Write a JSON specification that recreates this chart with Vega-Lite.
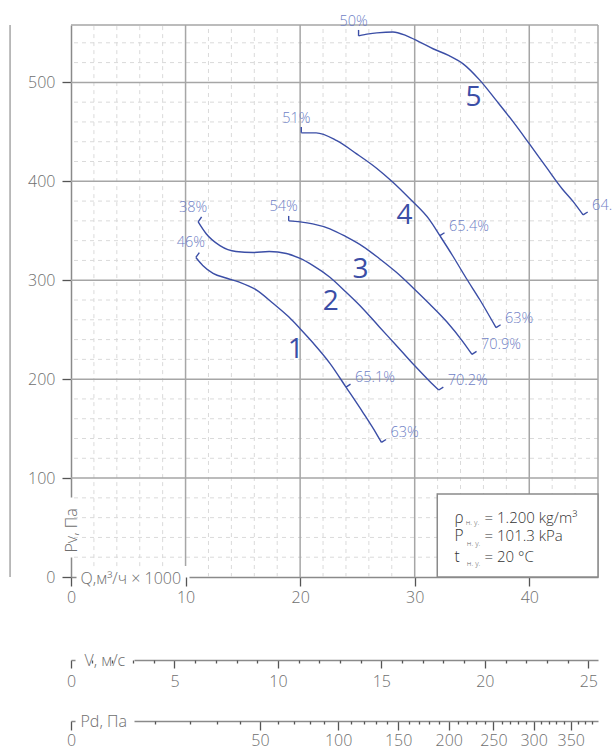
{
  "$schema": "https://vega.github.io/schema/vega-lite/v6.json",
  "width": 527,
  "height": 552,
  "autosize": {"type": "none"},
  "padding": {"left": 71, "top": 25, "right": 14, "bottom": 172},
  "background": "white",
  "config": {
    "view": {"stroke": null},
    "font": "Open Sans",
    "axis": {
      "grid": false,
      "domainColor": "#8a8a8a",
      "domainWidth": 1.5,
      "tickColor": "#555555",
      "tickWidth": 1.3,
      "labelColor": "#6e6e6e",
      "labelFont": "Open Sans",
      "labelFontSize": 16,
      "labelFontWeight": 300,
      "labelFlush": false,
      "labelOverlap": false,
      "titleColor": "#6e6e6e",
      "titleFont": "Open Sans",
      "titleFontSize": 16,
      "titleFontWeight": 300,
      "zindex": 1
    }
  },
  "datasets": {
    "curves": [
      {"curve": 1, "q": 10.9, "p": 323}, {"curve": 1, "q": 11.5, "p": 315}, {"curve": 1, "q": 12.4, "p": 307}, {"curve": 1, "q": 13.6, "p": 302}, {"curve": 1, "q": 14.7, "p": 298}, {"curve": 1, "q": 16.2, "p": 290}, {"curve": 1, "q": 17.6, "p": 277}, {"curve": 1, "q": 19.0, "p": 263}, {"curve": 1, "q": 20.0, "p": 251}, {"curve": 1, "q": 21.1, "p": 237}, {"curve": 1, "q": 22.6, "p": 216}, {"curve": 1, "q": 24.0, "p": 192}, {"curve": 1, "q": 25.5, "p": 166}, {"curve": 1, "q": 26.7, "p": 144}, {"curve": 1, "q": 27.1, "p": 136},
      {"curve": 2, "q": 11.1, "p": 359}, {"curve": 2, "q": 11.8, "p": 347}, {"curve": 2, "q": 13.0, "p": 335}, {"curve": 2, "q": 14.4, "p": 329}, {"curve": 2, "q": 15.9, "p": 328}, {"curve": 2, "q": 17.3, "p": 329}, {"curve": 2, "q": 18.8, "p": 327}, {"curve": 2, "q": 20.0, "p": 322}, {"curve": 2, "q": 21.1, "p": 315}, {"curve": 2, "q": 22.6, "p": 303}, {"curve": 2, "q": 24.0, "p": 288}, {"curve": 2, "q": 25.5, "p": 271}, {"curve": 2, "q": 26.9, "p": 253}, {"curve": 2, "q": 28.4, "p": 234}, {"curve": 2, "q": 29.8, "p": 216}, {"curve": 2, "q": 31.3, "p": 198}, {"curve": 2, "q": 32.1, "p": 189},
      {"curve": 3, "q": 19.0, "p": 360}, {"curve": 3, "q": 20.0, "p": 359}, {"curve": 3, "q": 21.1, "p": 357}, {"curve": 3, "q": 22.6, "p": 352}, {"curve": 3, "q": 24.0, "p": 344}, {"curve": 3, "q": 25.5, "p": 334}, {"curve": 3, "q": 26.9, "p": 322}, {"curve": 3, "q": 28.4, "p": 308}, {"curve": 3, "q": 29.8, "p": 293}, {"curve": 3, "q": 31.3, "p": 276}, {"curve": 3, "q": 32.8, "p": 258}, {"curve": 3, "q": 34.2, "p": 238}, {"curve": 3, "q": 35.0, "p": 225},
      {"curve": 4, "q": 20.1, "p": 449}, {"curve": 4, "q": 21.4, "p": 449}, {"curve": 4, "q": 23.2, "p": 441}, {"curve": 4, "q": 24.9, "p": 428}, {"curve": 4, "q": 26.7, "p": 413}, {"curve": 4, "q": 28.1, "p": 399}, {"curve": 4, "q": 29.6, "p": 382}, {"curve": 4, "q": 31.3, "p": 361}, {"curve": 4, "q": 32.2, "p": 345}, {"curve": 4, "q": 33.3, "p": 325}, {"curve": 4, "q": 34.5, "p": 302}, {"curve": 4, "q": 35.7, "p": 280}, {"curve": 4, "q": 37.1, "p": 252},
      {"curve": 5, "q": 25.1, "p": 547}, {"curve": 5, "q": 26.0, "p": 549}, {"curve": 5, "q": 26.7, "p": 550}, {"curve": 5, "q": 28.1, "p": 551}, {"curve": 5, "q": 29.3, "p": 547}, {"curve": 5, "q": 30.4, "p": 541}, {"curve": 5, "q": 31.6, "p": 534}, {"curve": 5, "q": 33.0, "p": 527}, {"curve": 5, "q": 34.2, "p": 519}, {"curve": 5, "q": 35.7, "p": 502}, {"curve": 5, "q": 37.1, "p": 482}, {"curve": 5, "q": 38.6, "p": 460}, {"curve": 5, "q": 40.0, "p": 438}, {"curve": 5, "q": 41.5, "p": 414}, {"curve": 5, "q": 42.9, "p": 392}, {"curve": 5, "q": 43.8, "p": 380}, {"curve": 5, "q": 44.7, "p": 366}
    ],
    "marks": [
      {"seg": "1s", "q": 10.9, "p": 323}, {"seg": "1s", "q": 11.2, "p": 328},
      {"seg": "2s", "q": 11.1, "p": 359}, {"seg": "2s", "q": 11.4, "p": 364},
      {"seg": "3s", "q": 19.0, "p": 360}, {"seg": "3s", "q": 19.0, "p": 365},
      {"seg": "4s", "q": 20.1, "p": 449}, {"seg": "4s", "q": 20.1, "p": 455},
      {"seg": "5s", "q": 25.1, "p": 547}, {"seg": "5s", "q": 25.1, "p": 553},
      {"seg": "1e", "q": 27.1, "p": 136}, {"seg": "1e", "q": 27.5, "p": 139},
      {"seg": "2e", "q": 32.1, "p": 189}, {"seg": "2e", "q": 32.5, "p": 192},
      {"seg": "3e", "q": 35.0, "p": 225}, {"seg": "3e", "q": 35.4, "p": 228},
      {"seg": "4e", "q": 37.1, "p": 252}, {"seg": "4e", "q": 37.5, "p": 255},
      {"seg": "5e", "q": 44.7, "p": 366}, {"seg": "5e", "q": 45.1, "p": 369},
      {"seg": "1m", "q": 24.0, "p": 192}, {"seg": "1m", "q": 24.4, "p": 195},
      {"seg": "4m", "q": 32.2, "p": 345}, {"seg": "4m", "q": 32.6, "p": 348}
    ],
    "eff": [
      {"kind": "start", "q": 10.9, "p": 323, "label": "46%"},
      {"kind": "start", "q": 11.1, "p": 359, "label": "38%"},
      {"kind": "start", "q": 19.0, "p": 360, "label": "54%"},
      {"kind": "start", "q": 20.1, "p": 449, "label": "51%"},
      {"kind": "start", "q": 25.1, "p": 547, "label": "50%"},
      {"kind": "end", "q": 27.1, "p": 136, "label": "63%"},
      {"kind": "end", "q": 32.1, "p": 189, "label": "70.2%"},
      {"kind": "end", "q": 35.0, "p": 225, "label": "70.9%"},
      {"kind": "end", "q": 37.1, "p": 252, "label": "63%"},
      {"kind": "end", "q": 44.7, "p": 366, "label": "64.3%"},
      {"kind": "end", "q": 24.0, "p": 192, "label": "65.1%"},
      {"kind": "end", "q": 32.2, "p": 345, "label": "65.4%"}
    ],
    "names": [
      {"name": "1", "q": 19.62, "p": 229},
      {"name": "2", "q": 22.67, "p": 278},
      {"name": "3", "q": 25.28, "p": 310},
      {"name": "4", "q": 29.12, "p": 365},
      {"name": "5", "q": 35.13, "p": 484}
    ],
    "gridV": [
      {"kind": "minor", "q": 2, "p1": 11, "p2": 558}, {"kind": "minor", "q": 4, "p1": 11, "p2": 558}, {"kind": "minor", "q": 6, "p1": 11, "p2": 558}, {"kind": "minor", "q": 8, "p1": 11, "p2": 558},
      {"kind": "minor", "q": 12, "p1": 0, "p2": 558}, {"kind": "minor", "q": 14, "p1": 0, "p2": 558}, {"kind": "minor", "q": 16, "p1": 0, "p2": 558}, {"kind": "minor", "q": 18, "p1": 0, "p2": 558},
      {"kind": "minor", "q": 22, "p1": 0, "p2": 558}, {"kind": "minor", "q": 24, "p1": 0, "p2": 558}, {"kind": "minor", "q": 26, "p1": 0, "p2": 558}, {"kind": "minor", "q": 28, "p1": 0, "p2": 558},
      {"kind": "minor", "q": 32, "p1": 0, "p2": 558}, {"kind": "minor", "q": 34, "p1": 0, "p2": 558}, {"kind": "minor", "q": 36, "p1": 0, "p2": 558}, {"kind": "minor", "q": 38, "p1": 0, "p2": 558},
      {"kind": "minor", "q": 42, "p1": 0, "p2": 558}, {"kind": "minor", "q": 44, "p1": 0, "p2": 558},
      {"kind": "major", "q": 10, "p1": 11, "p2": 558}, {"kind": "major", "q": 20, "p1": 0, "p2": 558}, {"kind": "major", "q": 30, "p1": 0, "p2": 558}, {"kind": "major", "q": 40, "p1": 0, "p2": 558}, {"kind": "major", "q": 46, "p1": 0, "p2": 558},
      {"kind": "major", "q": -5.32, "p1": 0, "p2": 558}
    ],
    "gridH": [
      {"kind": "minor", "p": 20}, {"kind": "minor", "p": 40}, {"kind": "minor", "p": 60}, {"kind": "minor", "p": 80},
      {"kind": "minor", "p": 120}, {"kind": "minor", "p": 140}, {"kind": "minor", "p": 160}, {"kind": "minor", "p": 180},
      {"kind": "minor", "p": 220}, {"kind": "minor", "p": 240}, {"kind": "minor", "p": 260}, {"kind": "minor", "p": 280},
      {"kind": "minor", "p": 320}, {"kind": "minor", "p": 340}, {"kind": "minor", "p": 360}, {"kind": "minor", "p": 380},
      {"kind": "minor", "p": 420}, {"kind": "minor", "p": 440}, {"kind": "minor", "p": 460}, {"kind": "minor", "p": 480},
      {"kind": "minor", "p": 520}, {"kind": "minor", "p": 540},
      {"kind": "major", "p": 100}, {"kind": "major", "p": 200}, {"kind": "major", "p": 300}, {"kind": "major", "p": 400}, {"kind": "major", "p": 500}, {"kind": "major", "p": 558}
    ],
    "box": [{"q1": 31.97, "q2": 46, "p1": 0, "p2": 83.8}],
    "boxText": [
      {"role": "sym", "q": 33.48, "p": 55, "text": "ρ"},
      {"role": "sym", "q": 33.48, "p": 36.4, "text": "P"},
      {"role": "sym", "q": 33.48, "p": 15.5, "text": "t"},
      {"role": "sub", "q": 34.45, "p": 52.3, "text": "н. у."},
      {"role": "sub", "q": 34.55, "p": 31.6, "text": "н. у."},
      {"role": "sub", "q": 34.55, "p": 11.1, "text": "н. у."},
      {"role": "val", "q": 36.1, "p": 55, "text": "= 1.200 kg/m³"},
      {"role": "val", "q": 36.1, "p": 36.4, "text": "= 101.3 kPa"},
      {"role": "val", "q": 36.1, "p": 15.5, "text": "= 20 °C"}
    ],
    "qpTicks": [{"q": 0, "p": 0}, {"q": 10, "p": 100}, {"q": 20, "p": 200}, {"q": 30, "p": 300}, {"q": 40, "p": 400}, {"q": 40, "p": 500}],
    "vTicks": [{"v": 0}, {"v": 5}, {"v": 10}, {"v": 15}, {"v": 20}, {"v": 25}],
    "pdTicks": [{"pd": 0}, {"pd": 50}, {"pd": 100}, {"pd": 150}, {"pd": 200}, {"pd": 250}, {"pd": 300}, {"pd": 350}]
  },
  "layer": [
    {
      "layer": [
        {
          "data": {"name": "gridV"},
          "transform": [{"filter": "datum.kind === 'minor'"}],
          "mark": {"type": "rule", "color": "#dadada", "strokeWidth": 1, "strokeDash": [4, 4]},
          "encoding": {
            "x": {"field": "q", "type": "quantitative", "scale": {"domain": [0, 46], "nice": false, "zero": false}, "axis": null},
            "y": {"field": "p1", "type": "quantitative", "scale": {"domain": [0, 558], "nice": false, "zero": false}, "axis": null},
            "y2": {"field": "p2"}
          }
        },
        {
          "data": {"name": "gridH"},
          "transform": [{"filter": "datum.kind === 'minor'"}],
          "mark": {"type": "rule", "color": "#dadada", "strokeWidth": 1, "strokeDash": [4, 4]},
          "encoding": {
            "y": {"field": "p", "type": "quantitative", "scale": {"domain": [0, 558], "nice": false, "zero": false}, "axis": null}
          }
        },
        {
          "data": {"name": "gridV"},
          "transform": [{"filter": "datum.kind === 'major'"}],
          "mark": {"type": "rule", "color": "#a6a6a6", "strokeWidth": 1.5},
          "encoding": {
            "x": {"field": "q", "type": "quantitative", "scale": {"domain": [0, 46], "nice": false, "zero": false}, "axis": null},
            "y": {"field": "p1", "type": "quantitative", "scale": {"domain": [0, 558], "nice": false, "zero": false}, "axis": null},
            "y2": {"field": "p2"}
          }
        },
        {
          "data": {"name": "gridH"},
          "transform": [{"filter": "datum.kind === 'major'"}],
          "mark": {"type": "rule", "color": "#a6a6a6", "strokeWidth": 1.5},
          "encoding": {
            "y": {"field": "p", "type": "quantitative", "scale": {"domain": [0, 558], "nice": false, "zero": false}, "axis": null}
          }
        },
        {
          "data": {"name": "box"},
          "mark": {"type": "rect", "fill": "white", "stroke": "#8a8a8a", "strokeWidth": 1.5},
          "encoding": {
            "x": {"field": "q1", "type": "quantitative", "scale": {"domain": [0, 46], "nice": false, "zero": false}, "axis": null},
            "x2": {"field": "q2"},
            "y": {"field": "p1", "type": "quantitative", "scale": {"domain": [0, 558], "nice": false, "zero": false}, "axis": null},
            "y2": {"field": "p2"}
          }
        },
        {
          "data": {"name": "curves"},
          "mark": {"type": "line", "color": "#3b4ea6", "strokeWidth": 1.4, "interpolate": "monotone"},
          "encoding": {
            "x": {"field": "q", "type": "quantitative", "scale": {"domain": [0, 46], "nice": false, "zero": false}, "axis": null},
            "y": {"field": "p", "type": "quantitative", "scale": {"domain": [0, 558], "nice": false, "zero": false}, "axis": null},
            "detail": {"field": "curve", "type": "nominal"}
          }
        },
        {
          "data": {"name": "marks"},
          "mark": {"type": "line", "color": "#3b4ea6", "strokeWidth": 1.4},
          "encoding": {
            "x": {"field": "q", "type": "quantitative", "scale": {"domain": [0, 46], "nice": false, "zero": false}, "axis": null},
            "y": {"field": "p", "type": "quantitative", "scale": {"domain": [0, 558], "nice": false, "zero": false}, "axis": null},
            "detail": {"field": "seg", "type": "nominal"}
          }
        },
        {
          "data": {"name": "eff"},
          "transform": [{"filter": "datum.kind === 'start'"}],
          "mark": {"type": "text", "color": "#6f7fc6", "font": "Open Sans", "fontSize": 14.5, "fontWeight": 300, "align": "center", "baseline": "middle", "dx": -5, "dy": -14},
          "encoding": {
            "x": {"field": "q", "type": "quantitative", "scale": {"domain": [0, 46], "nice": false, "zero": false}, "axis": null},
            "y": {"field": "p", "type": "quantitative", "scale": {"domain": [0, 558], "nice": false, "zero": false}, "axis": null},
            "text": {"field": "label"}
          }
        },
        {
          "data": {"name": "eff"},
          "transform": [{"filter": "datum.kind === 'end'"}],
          "mark": {"type": "text", "color": "#6f7fc6", "font": "Open Sans", "fontSize": 14.5, "fontWeight": 300, "align": "left", "baseline": "middle", "dx": 9, "dy": -9},
          "encoding": {
            "x": {"field": "q", "type": "quantitative", "scale": {"domain": [0, 46], "nice": false, "zero": false}, "axis": null},
            "y": {"field": "p", "type": "quantitative", "scale": {"domain": [0, 558], "nice": false, "zero": false}, "axis": null},
            "text": {"field": "label"}
          }
        },
        {
          "data": {"name": "names"},
          "mark": {"type": "text", "color": "#3b4ea6", "font": "Open Sans", "fontSize": 28, "fontWeight": 500, "align": "center", "baseline": "middle"},
          "encoding": {
            "x": {"field": "q", "type": "quantitative", "scale": {"domain": [0, 46], "nice": false, "zero": false}, "axis": null},
            "y": {"field": "p", "type": "quantitative", "scale": {"domain": [0, 558], "nice": false, "zero": false}, "axis": null},
            "text": {"field": "name"}
          }
        },
        {
          "data": {"name": "boxText"},
          "transform": [{"filter": "datum.role === 'sym'"}],
          "mark": {"type": "text", "color": "#333333", "font": "Open Sans", "fontSize": 15.5, "fontWeight": 300, "align": "left", "baseline": "alphabetic"},
          "encoding": {
            "x": {"field": "q", "type": "quantitative", "scale": {"domain": [0, 46], "nice": false, "zero": false}, "axis": null},
            "y": {"field": "p", "type": "quantitative", "scale": {"domain": [0, 558], "nice": false, "zero": false}, "axis": null},
            "text": {"field": "text"}
          }
        },
        {
          "data": {"name": "boxText"},
          "transform": [{"filter": "datum.role === 'sub'"}],
          "mark": {"type": "text", "color": "#666666", "font": "Open Sans", "fontSize": 7.5, "fontWeight": 300, "align": "left", "baseline": "alphabetic"},
          "encoding": {
            "x": {"field": "q", "type": "quantitative", "scale": {"domain": [0, 46], "nice": false, "zero": false}, "axis": null},
            "y": {"field": "p", "type": "quantitative", "scale": {"domain": [0, 558], "nice": false, "zero": false}, "axis": null},
            "text": {"field": "text"}
          }
        },
        {
          "data": {"name": "boxText"},
          "transform": [{"filter": "datum.role === 'val'"}],
          "mark": {"type": "text", "color": "#333333", "font": "Open Sans", "fontSize": 15, "fontWeight": 300, "align": "left", "baseline": "alphabetic"},
          "encoding": {
            "x": {"field": "q", "type": "quantitative", "scale": {"domain": [0, 46], "nice": false, "zero": false}, "axis": null},
            "y": {"field": "p", "type": "quantitative", "scale": {"domain": [0, 558], "nice": false, "zero": false}, "axis": null},
            "text": {"field": "text"}
          }
        }
      ]
    },
    {
      "data": {"name": "qpTicks"},
      "mark": {"type": "point", "opacity": 0},
      "encoding": {
        "x": {
          "field": "q", "type": "quantitative",
          "scale": {"domain": [0, 46], "nice": false, "zero": false},
          "axis": {
            "orient": "bottom",
            "values": [0, 10, 20, 30, 40],
            "tickSize": 9,
            "labelPadding": 3,
            "domainDash": [5, 113, 1000],
            "title": "Q,м³/ч × 1000",
            "titleX": 9,
            "titleY": 1,
            "titleAlign": "left",
            "titleBaseline": "middle"
          }
        },
        "y": {
          "field": "p", "type": "quantitative",
          "scale": {"domain": [0, 558], "nice": false, "zero": false},
          "axis": {
            "orient": "left",
            "values": [0, 100, 200, 300, 400, 500],
            "tickSize": 9,
            "labelPadding": 7,
            "domainDash": [20, 60, 1000],
            "title": "Pv, Па",
            "titleAngle": 270,
            "titleX": 0,
            "titleY": 527,
            "titleAlign": "left",
            "titleBaseline": "middle"
          }
        }
      }
    },
    {
      "data": {"name": "vTicks"},
      "mark": {"type": "point", "opacity": 0},
      "encoding": {
        "x": {
          "field": "v", "type": "quantitative",
          "scale": {"domain": [0, 25.47], "nice": false, "zero": false},
          "axis": {
            "orient": "bottom", "offset": 83,
            "values": [0, 5, 10, 15, 20, 25],
            "tickSize": 8, "labelPadding": 5,
            "domainDash": [4, 59, 1000],
            "title": "V, м/с", "titleX": 13, "titleY": 0, "titleAlign": "left", "titleBaseline": "middle"
          }
        }
      }
    },
    {
      "data": {"name": "vTicks"},
      "mark": {"type": "point", "opacity": 0},
      "encoding": {
        "x": {
          "field": "v", "type": "quantitative",
          "scale": {"domain": [0, 25.47], "nice": false, "zero": false},
          "axis": {
            "orient": "bottom", "offset": 83,
            "values": [1, 2, 3, 4, 6, 7, 8, 9, 11, 12, 13, 14, 16, 17, 18, 19, 21, 22, 23, 24],
            "tickSize": 3, "labels": false, "domain": false, "title": null
          }
        }
      }
    },
    {
      "data": {"name": "pdTicks"},
      "mark": {"type": "point", "opacity": 0},
      "encoding": {
        "x": {
          "field": "pd", "type": "quantitative",
          "scale": {"type": "sqrt", "domain": [0, 389.2], "nice": false, "zero": true},
          "axis": {
            "orient": "bottom", "offset": 144,
            "values": [0, 50, 100, 150, 200, 250, 300, 350],
            "tickSize": 9, "labelPadding": 2,
            "domainDash": [4, 59, 1000],
            "title": "Pd, Па", "titleX": 9, "titleY": 0, "titleAlign": "left", "titleBaseline": "middle"
          }
        }
      }
    },
    {
      "data": {"name": "pdTicks"},
      "mark": {"type": "point", "opacity": 0},
      "encoding": {
        "x": {
          "field": "pd", "type": "quantitative",
          "scale": {"type": "sqrt", "domain": [0, 389.2], "nice": false, "zero": true},
          "axis": {
            "orient": "bottom", "offset": 144,
            "values": [10, 20, 30, 40, 60, 70, 80, 90, 110, 120, 130, 140, 160, 170, 180, 190, 210, 220, 230, 240, 260, 270, 280, 290, 310, 320, 330, 340, 360, 370, 380],
            "tickSize": 3, "labels": false, "domain": false, "title": null
          }
        }
      }
    }
  ],
  "resolve": {"scale": {"x": "independent", "y": "independent"}}
}
